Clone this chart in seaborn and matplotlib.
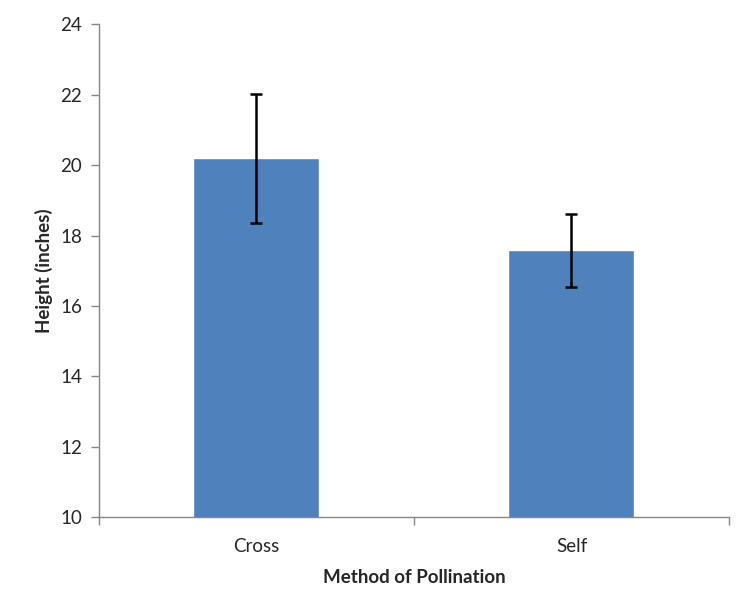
import numpy as np
import pandas as pd
import matplotlib
matplotlib.use("Agg")
import matplotlib.pyplot as plt
import seaborn as sns

# values
methods = ["Cross", "Self"]
heights = [20.20, 17.59]
err_low = [18.35, 16.54]
err_high = [22.01, 18.61]

df = pd.DataFrame({"Method of Pollination": methods, "Height (inches)": heights})

sns.set_style("white")
plt.rcParams["font.family"] = ["Lato", "DejaVu Sans"]

fig = plt.figure(figsize=(7.52, 6.15), dpi=100)
ax = fig.add_axes([0.1316, 0.1593, 0.9694 - 0.1316, 0.9602 - 0.1593])

sns.barplot(data=df, x="Method of Pollination", y="Height (inches)",
            color="#4F81BD", saturation=1, width=0.4, ax=ax)

yerr = np.array([np.array(heights) - np.array(err_low),
                 np.array(err_high) - np.array(heights)])
ax.errorbar(np.arange(len(methods)), heights, yerr=yerr, fmt="none",
            ecolor="black", elinewidth=1.8, capsize=4.5, capthick=1.8)

ax.set_ylim(10, 24)
ax.set_yticks(np.arange(10, 25, 2))
ax.set_xlim(-0.5, 1.5)

# category boundary ticks on the x axis, like Excel
ax.set_xticks([-0.5, 0.5, 1.5], minor=True)
ax.tick_params(axis="x", which="major", length=0, pad=15, labelsize=13.5)
ax.tick_params(axis="x", which="minor", length=6, width=1, color="#868686",
               direction="out", bottom=True)
ax.tick_params(axis="y", length=6, width=1, color="#868686", direction="out",
               left=True, labelsize=13.5, pad=6)

for s in ["top", "right"]:
    ax.spines[s].set_visible(False)
for s in ["left", "bottom"]:
    ax.spines[s].set_color("#868686")
    ax.spines[s].set_linewidth(1)

ax.set_xlabel("Method of Pollination", fontsize=13.5, fontweight="bold", labelpad=10)
ax.set_ylabel("Height (inches)", fontsize=13.5, fontweight="bold", labelpad=5)

fig.savefig("out.png", dpi=100)
